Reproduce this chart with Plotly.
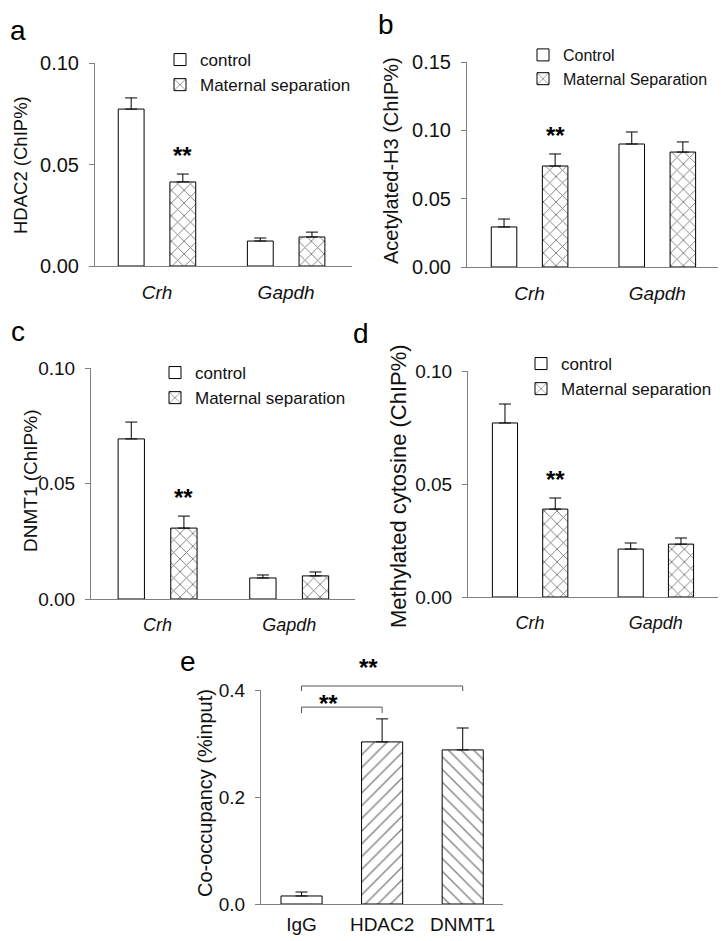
import plotly.graph_objects as go

W, H = 726, 941

# ---------------- data ----------------
genes = ["Crh", "Gapdh"]

a_names = ["control", "Maternal separation"]
a_ctrl = [0.0773, 0.0123]
a_ctrl_err = [0.0055, 0.0015]
a_ms = [0.0414, 0.0143]
a_ms_err = [0.0039, 0.0024]

b_names = ["Control", "Maternal Separation"]
b_ctrl = [0.0293, 0.0900]
b_ctrl_err = [0.0058, 0.0088]
b_ms = [0.0739, 0.0841]
b_ms_err = [0.0088, 0.0074]

c_names = ["control", "Maternal separation"]
c_ctrl = [0.0693, 0.0091]
c_ctrl_err = [0.0073, 0.0013]
c_ms = [0.0307, 0.0100]
c_ms_err = [0.0052, 0.0017]

d_names = ["control", "Maternal separation"]
d_ctrl = [0.0770, 0.0212]
d_ctrl_err = [0.0084, 0.0027]
d_ms = [0.0389, 0.0234]
d_ms_err = [0.0049, 0.0027]

e_cats = ["IgG", "HDAC2", "DNMT1"]
e_vals = [0.015, 0.303, 0.288]
e_err = [0.0074, 0.043, 0.041]
e_patterns = ["", "/", "\\"]

y_titles = ["HDAC2 (ChIP%)", "Acetylated-H3 (ChIP%)", "DNMT1 (ChIP%)",
            "Methylated cytosine (ChIP%)", "Co-occupancy (%input)"]
panel_letters = ["a", "b", "c", "d", "e"]

# ---------------- styling helpers ----------------
FONT = "Liberation Sans, Arial, sans-serif"
AXC = "#808080"
OFF = 8  # page body margin compensation


def px_x(x):
    return (x - OFF) / W


def px_y(y):
    return 1 - (y - OFF) / H


fig = go.Figure()

panels = [
    dict(ax="", ctrl=a_ctrl, ce=a_ctrl_err, ms=a_ms, me=a_ms_err, names=a_names,
         xpx=(95, 352), ypx=(63, 266), xr=(-0.48, 1.51), ymax=0.10, dt=0.05, fmt=".2f",
         tf=20, lf=19, legf=17, leg=(160, 42), title=(20, 165, 18.5), letter=(18, 30, "middle")),
    dict(ax="2", ctrl=b_ctrl, ce=b_ctrl_err, ms=b_ms, me=b_ms_err, names=b_names,
         xpx=(467, 725), ypx=(62, 267), xr=(-0.49, 1.53), ymax=0.15, dt=0.05, fmt=".2f",
         tf=20, lf=19, legf=16, leg=(523, 38), title=(391, 160, 20), letter=(386, 8, "top")),
    dict(ax="3", ctrl=c_ctrl, ce=c_ctrl_err, ms=c_ms, me=c_ms_err, names=c_names,
         xpx=(91, 355), ypx=(368, 599), xr=(-0.506, 1.50), ymax=0.10, dt=0.05, fmt=".2f",
         tf=19, lf=18, legf=17, leg=(155, 355), title=(30, 481, 19), letter=(18, 331, "middle")),
    dict(ax="4", ctrl=d_ctrl, ce=d_ctrl_err, ms=d_ms, me=d_ms_err, names=d_names,
         xpx=(468, 725), ypx=(371, 597), xr=(-0.494, 1.55), ymax=0.10, dt=0.05, fmt=".2f",
         tf=19, lf=18, legf=17, leg=(521, 346), title=(398, 486, 22), letter=(361, 333, "middle")),
]

annotations = []
shapes = []
layout_axes = {}

for i, p in enumerate(panels):
    ax = p["ax"]
    xname = "x" + ax
    yname = "y" + ax
    legname = "legend" + ax
    # control bars
    fig.add_trace(go.Bar(
        x=genes, y=p["ctrl"], name=p["names"][0], width=0.2, offset=-0.3,
        marker=dict(color="white", line=dict(color="black", width=1)),
        error_y=dict(type="data", symmetric=False, array=p["ce"], arrayminus=[0] * len(p["ce"]),
                     color="black", thickness=1, width=6),
        xaxis=xname, yaxis=yname, legend=legname, showlegend=True,
    ))
    # maternal separation bars
    fig.add_trace(go.Bar(
        x=genes, y=p["ms"], name=p["names"][1], width=0.2, offset=0.1,
        marker=dict(color="white", line=dict(color="black", width=1),
                    pattern=dict(shape="x", fgcolor="black", bgcolor="white", size=9, solidity=0.2)),
        error_y=dict(type="data", symmetric=False, array=p["me"], arrayminus=[0] * len(p["me"]),
                     color="black", thickness=1, width=6),
        xaxis=xname, yaxis=yname, legend=legname, showlegend=True,
    ))
    xkey = "xaxis" + ax
    ykey = "yaxis" + ax
    layout_axes[xkey] = dict(
        domain=[px_x(p["xpx"][0]), px_x(p["xpx"][1])], anchor=yname,
        range=list(p["xr"]), showline=True, linecolor=AXC, linewidth=1,
        ticks="", showgrid=False, zeroline=False, ticklabelstandoff=9,
        tickfont=dict(family=FONT, size=p["lf"], color="#111", style="italic"),
        fixedrange=True,
    )
    layout_axes[ykey] = dict(
        domain=[px_y(p["ypx"][1]), px_y(p["ypx"][0])], anchor=xname,
        range=[0, p["ymax"]], dtick=p["dt"], tick0=0, tickformat=p["fmt"],
        showline=True, linecolor=AXC, linewidth=1, ticks="outside", ticklen=5,
        tickcolor=AXC, showgrid=False, zeroline=False, ticklabelstandoff=6,
        tickfont=dict(family=FONT, size=p["tf"], color="#111"), fixedrange=True,
    )
    layout_axes[legname] = dict(
        x=px_x(p["leg"][0]), y=px_y(p["leg"][1]), xanchor="left", yanchor="top",
        bgcolor="rgba(0,0,0,0)", font=dict(family=FONT, size=p["legf"], color="#111"),
        itemclick=False, itemdoubleclick=False,
    )
    # significance stars above MS Crh bar
    annotations.append(dict(
        x=0.2, y=p["ms"][0] + p["me"][0], xref=xname, yref=yname, text="<b>**</b>",
        showarrow=False, yanchor="bottom", yshift=3,
        font=dict(family=FONT, size=24, color="black"),
    ))
    # axis title
    tx, ty, ts = p["title"]
    annotations.append(dict(
        x=px_x(tx), y=px_y(ty), xref="paper", yref="paper", text=y_titles[i],
        textangle=-90, showarrow=False, xanchor="center", yanchor="middle",
        font=dict(family=FONT, size=ts, color="#111"),
    ))
    lx, ly, lanchor = p["letter"]
    annotations.append(dict(
        x=px_x(lx), y=min(1.0, px_y(ly)), xref="paper", yref="paper", text=panel_letters[i],
        showarrow=False, xanchor="center", yanchor=lanchor, borderpad=0,
        font=dict(family=FONT, size=28, color="black"),
    ))

# ---------------- panel e ----------------
fig.add_trace(go.Bar(
    x=e_cats, y=e_vals, width=0.51, offset=-0.255, showlegend=False,
    marker=dict(color="white", line=dict(color="black", width=1),
                pattern=dict(shape=e_patterns, fgcolor="black", bgcolor="white", size=9, solidity=0.15)),
    error_y=dict(type="data", symmetric=False, array=e_err, arrayminus=[0] * len(e_err),
                 color="black", thickness=1, width=6),
    xaxis="x5", yaxis="y5",
))
layout_axes["xaxis5"] = dict(
    domain=[px_x(261), px_x(503)], anchor="y5", range=[-0.503, 2.50],
    showline=True, linecolor=AXC, linewidth=1, ticks="", showgrid=False, zeroline=False,
    ticklabelstandoff=3, tickfont=dict(family=FONT, size=19, color="#111"), fixedrange=True,
)
E_MAX = 0.4
layout_axes["yaxis5"] = dict(
    domain=[px_y(904), px_y(690)], anchor="x5", range=[0, E_MAX], dtick=0.2, tick0=0,
    tickformat=".1f", showline=True, linecolor=AXC, linewidth=1, ticks="outside", ticklen=5,
    tickcolor=AXC, showgrid=False, zeroline=False, ticklabelstandoff=6,
    tickfont=dict(family=FONT, size=19, color="#111"), fixedrange=True,
)

# significance brackets (IgG vs HDAC2, IgG vs DNMT1), heights in data units
brackets = [(0, 1, 0.368, 0.357, 0.33, 0.385), (0, 2, 0.4075, 0.398, 0.83, 0.4505)]
for x0, x1, ytop, yleg, sx, sy in brackets:
    for (xa, ya, xb, yb) in [(x0, yleg, x0, ytop), (x0, ytop, x1, ytop), (x1, ytop, x1, yleg)]:
        shapes.append(dict(type="line", xref="x5", yref="y5 domain",
                           x0=xa, x1=xb, y0=ya / E_MAX, y1=yb / E_MAX,
                           line=dict(color="#555", width=1)))
    annotations.append(dict(
        x=sx, y=sy / E_MAX, xref="x5", yref="y5 domain", text="<b>**</b>", showarrow=False,
        xanchor="center", yanchor="middle", yshift=-5,
        font=dict(family=FONT, size=24, color="black"),
    ))

annotations.append(dict(
    x=px_x(205), y=px_y(793), xref="paper", yref="paper", text=y_titles[4],
    textangle=-90, showarrow=False, xanchor="center", yanchor="middle",
    font=dict(family=FONT, size=20, color="#111"),
))
annotations.append(dict(
    x=px_x(188), y=px_y(661), xref="paper", yref="paper", text=panel_letters[4],
    showarrow=False, xanchor="center", yanchor="middle", borderpad=0,
    font=dict(family=FONT, size=28, color="black"),
))

fig.update_layout(
    width=W, height=H, margin=dict(l=0, r=0, t=0, b=0, autoexpand=False),
    paper_bgcolor="white", plot_bgcolor="white", barmode="overlay",
    font=dict(family=FONT, color="#111"),
    annotations=annotations, shapes=shapes, **layout_axes,
)

fig.write_html("out.html")
